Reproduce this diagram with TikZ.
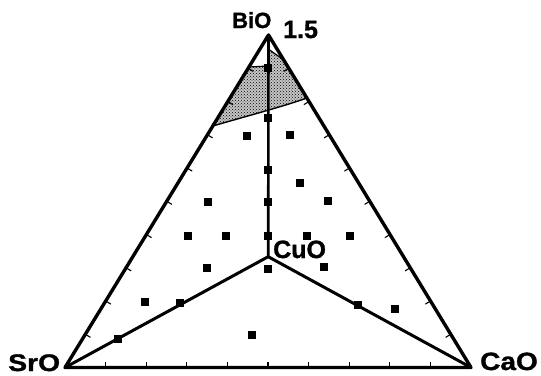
\documentclass[tikz,border=0pt]{standalone}
\usepackage{fontspec}
\setmainfont{Liberation Sans}
\newfontfamily\labfont[BoldFeatures={FakeBold=1.2}]{Liberation Sans}
\usetikzlibrary{calc,patterns}
\begin{document}
\begin{tikzpicture}[x=1pt,y=-1pt,
  edge/.style={line width=3.4pt,line cap=round,line join=round},
  innerline/.style={line width=3pt,line cap=round},
  tickmark/.style={line width=1.1pt},
  sq/.style={fill=black,inner sep=0pt,minimum size=7.5pt,draw=none,rectangle},
  lab/.style={inner sep=0pt,font=\labfont\bfseries}]
\useasboundingbox (0,0) rectangle (541,375);
\coordinate (A) at (268.5,35);
\coordinate (S) at (65,367.5);
\coordinate (C) at (471,367.5);
\coordinate (U) at (268.2,256.7);
% shaded region
\coordinate (r1) at (249,67);
\coordinate (r2) at (268.3,66);
\coordinate (r3) at (268.3,49);
\coordinate (r4) at (283.7,60);
\coordinate (r5) at (306.9,98);
\coordinate (r6) at (212.8,126);
\fill[gray!45]
  (r1) -- (r2) -- (r3) -- (r4) -- (r5) .. controls (285,106) and (240,118) .. (r6) -- cycle;
\fill[pattern=crosshatch dots,pattern color=black]
  (r1) -- (r2) -- (r3) -- (r4) -- (r5) .. controls (285,106) and (240,118) .. (r6) -- cycle;
\draw[line width=1.2pt] (r1) -- (r2);
\draw[line width=1.2pt] (r3) -- (r4);
\draw[line width=1.4pt] (r5) .. controls (285,106) and (240,118) .. (r6);
% ticks
\foreach \i in {1,...,9} {
  \path ($(S)!\i/10!(C)$) coordinate (p);
  \draw[tickmark] (p) -- ($(p)!6pt!90:(C)$);
  \path ($(C)!\i/10!(A)$) coordinate (q);
  \draw[tickmark] (q) -- ($(q)!6pt!90:(A)$);
  \path ($(A)!\i/10!(S)$) coordinate (w);
  \draw[tickmark] (w) -- ($(w)!6pt!90:(S)$);
}
% triangle
\draw[edge] (A) -- (S) -- (C) -- cycle;
% inner lines
\draw[line width=2.6pt] (A) -- (U);
\draw[innerline] (S) -- (U) -- (C);
% squares
\foreach \x/\y [count=\k] in {268/68,268/118,268/170,268/202,268/236,268/269,
  247/136,290/135,300/183,208/202,328/201,188/236,226/236,307/236,350/236,
  207/268,324/267,145/302,180/303,118/339,358/305,395/309,252/335} {
  \node[sq] (sq\k) at (\x,\y) {};
}
% labels
\node[lab,anchor=base west] (bio) at (232,28) {\fontsize{22}{22}\selectfont BiO};
\node[lab,anchor=base west] (sub) at (283,38) {\fontsize{25}{25}\selectfont 1.5};
\node[lab,anchor=base west] (cuo) at (273,258) {\fontsize{25}{25}\selectfont CuO};
\node[lab,anchor=base west] (sro) at (8,371) {\fontsize{24}{24}\selectfont\scalebox{1.18}[1]{SrO}};
\node[lab,anchor=base west] (cao) at (480,370) {\fontsize{25}{25}\selectfont\scalebox{1.12}[1]{CaO}};
\end{tikzpicture}
\end{document}
